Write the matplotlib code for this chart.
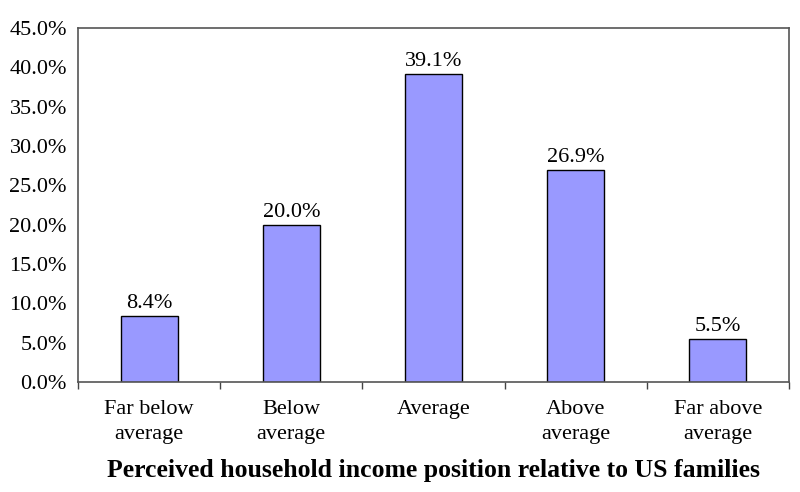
import matplotlib.pyplot as plt
import numpy as np
from matplotlib.ticker import FuncFormatter, FixedLocator

categories = ["Far below\naverage", "Below\naverage", "Average", "Above\naverage", "Far above\naverage"]
values = [8.4, 20.0, 39.1, 26.9, 5.5]
y_ticks = [0, 5, 10, 15, 20, 25, 30, 35, 40, 45]
x_title = "Perceived household income position relative to US families"

plt.rcParams["font.family"] = ["Liberation Serif", "DejaVu Serif"]

fig = plt.figure(figsize=(8, 4.92), dpi=100)
ax = fig.add_axes([0.0975, 0.2236, 0.8887, 0.7195])

x = np.arange(len(categories))
bars = ax.bar(x, values, width=0.4, color="#9999FF", edgecolor="black", linewidth=1.0)

for b, v in zip(bars, values):
    ax.text(b.get_x() + b.get_width() / 2, v + 0.4, f"{v:.1f}%",
            ha="center", va="bottom", fontsize=16)

ax.set_xlim(-0.5, len(categories) - 0.5)
ax.set_ylim(0, 45)
ax.set_yticks(y_ticks)
ax.yaxis.set_major_formatter(FuncFormatter(lambda v, p: f"{v:.1f}%"))
ax.tick_params(axis="y", length=0, pad=8, labelsize=16)

ax.set_xticks(x)
ax.set_xticklabels(categories, fontsize=16, linespacing=1.4)
ax.tick_params(axis="x", which="major", length=0, pad=13)
ax.xaxis.set_minor_locator(FixedLocator(np.arange(-0.5, len(categories), 1.0)))
ax.tick_params(axis="x", which="minor", length=5, width=1, color="#444444", direction="out")

for s in ax.spines.values():
    s.set_color("#555555")
    s.set_linewidth(1.2)

ax.set_xlabel(x_title, fontsize=18.5, fontweight="bold", labelpad=11)

fig.savefig("out.png", dpi=100)
